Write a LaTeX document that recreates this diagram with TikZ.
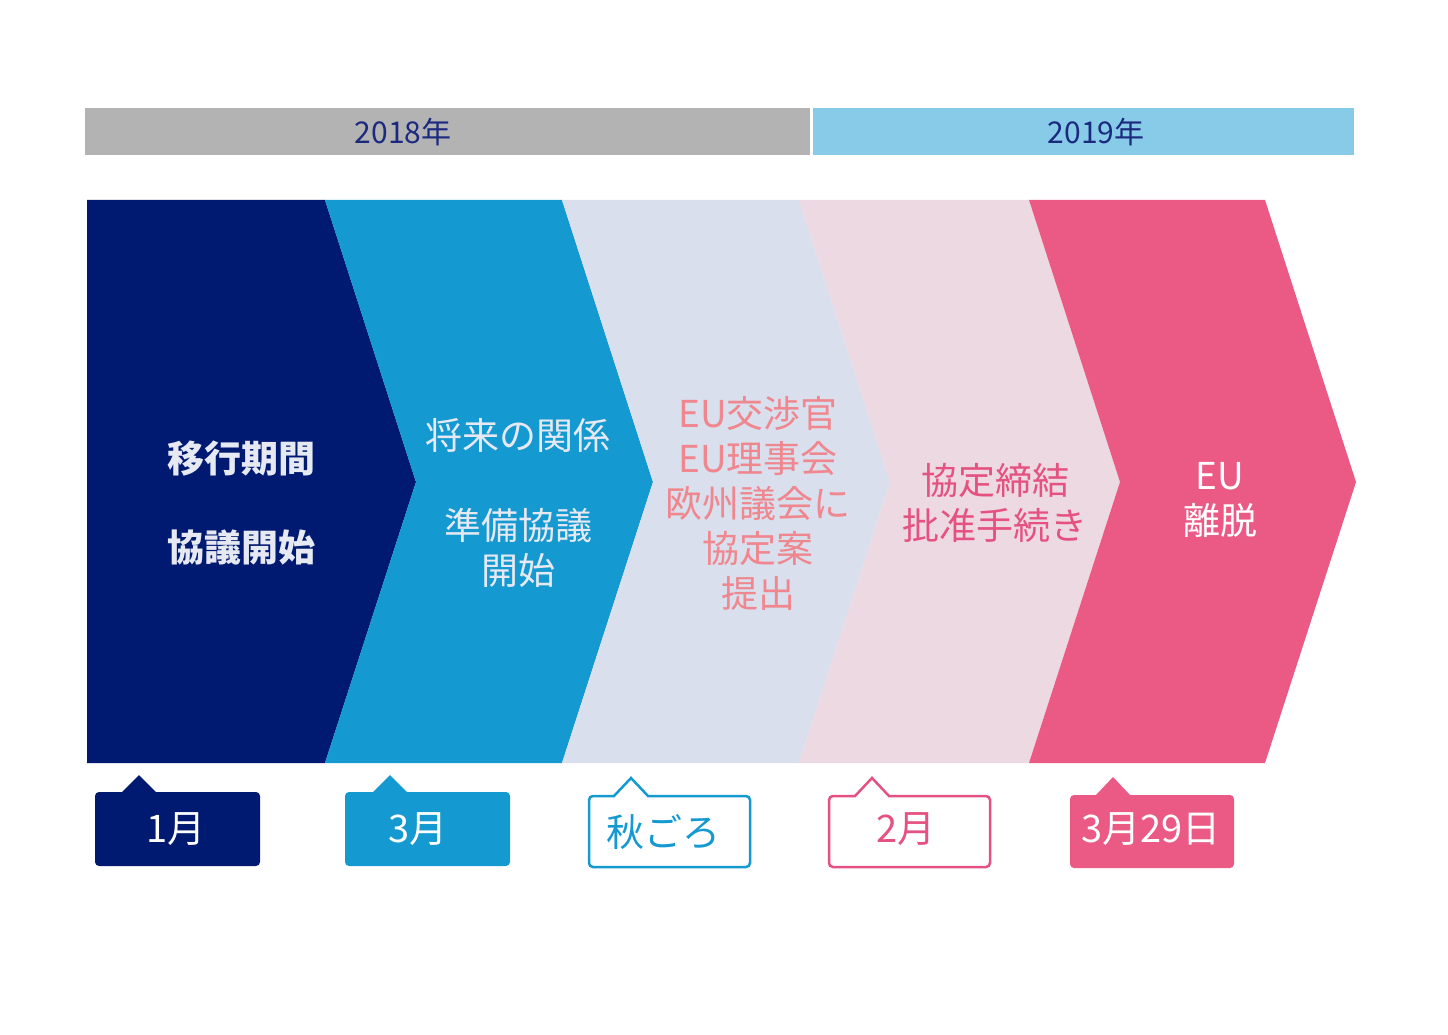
\documentclass[tikz,border=0pt]{standalone}
\usepackage{fontspec}
\setmainfont{Noto Sans CJK JP}
\usetikzlibrary{arrows.meta}

\definecolor{navy}{HTML}{001A72}
\definecolor{sea}{HTML}{1499D1}
\definecolor{mist}{HTML}{D9DFEC}
\definecolor{blush}{HTML}{EDD9E2}
\definecolor{rose}{HTML}{EB5985}
\definecolor{yeargray}{HTML}{B3B3B3}
\definecolor{yearblue}{HTML}{87CBE8}
\definecolor{yeartext}{HTML}{1B2A7E}
\definecolor{salmon}{HTML}{F0868E}
\definecolor{rosetext}{HTML}{E55281}
\definecolor{pale}{HTML}{E6E9F2}

\tikzset{
  yeartxt/.style={text=yeartext, font=\fontsize{30}{36}\selectfont},
  stagetxt/.style={align=center, font=\fontsize{37}{45}\selectfont},
  datetxt/.style={font=\fontsize{38}{44}\selectfont}
}

\begin{document}
\begin{tikzpicture}[x=1pt, y=-1pt]
    \useasboundingbox[fill=white] (0, 0) rectangle (1448, 1035);

    % year bars
    \fill[yeargray] (85, 108) rectangle (810, 155);
    \fill[yearblue] (813, 108) rectangle (1354, 155);
    \node[yeartxt] (y2018) at (403, 132) {2018年};
    \node[yeartxt] (y2019) at (1096, 132) {2019年};

    % chevrons
    \fill[navy] (87, 200) -- (325, 200) -- (416, 482) -- (325, 763) -- (87, 763) -- cycle;
    \fill[sea] (325, 200) -- (562, 200) -- (653, 482) -- (562, 763) -- (325, 763) -- (416, 482) -- cycle;
    \fill[mist] (562, 200) -- (799, 200) -- (890, 482) -- (799, 763) -- (562, 763) -- (653, 482) -- cycle;
    \fill[blush] (799, 200) -- (1029, 200) -- (1120, 482) -- (1029, 763) -- (799, 763) -- (890, 482) -- cycle;
    \fill[rose] (1029, 200) -- (1265, 200) -- (1356, 482) -- (1265, 763) -- (1029, 763) -- (1120, 482) -- cycle;

    \node[stagetxt, text=pale, font=\fontsize{37}{89}\selectfont\bfseries] (Start) at (241, 503) {移行期間\\協議開始};
    \node[stagetxt, text=pale] (Prep) at (518, 503) {将来の関係\\[45pt]準備協議\\開始};
    \node[stagetxt, text=salmon] (Draft) at (758, 503) {EU交渉官\\EU理事会\\欧州議会に\\協定案\\提出};
    \node[stagetxt, text=rosetext] (Ratify) at (995, 503) {協定締結\\批准手続き};
    \node[stagetxt, text=white] (Exit) at (1220, 500) {EU\\離脱};

    % date callouts
    \fill[navy] (122, 792) -- (139, 775) -- (156, 792) [rounded corners=4] -- (260, 792) -- (260, 866) -- (95, 866) -- (95, 792) [sharp corners] -- cycle;
    \fill[sea] (373, 792) -- (390, 775) -- (407, 792) [rounded corners=4] -- (510, 792) -- (510, 866) -- (345, 866) -- (345, 792) [sharp corners] -- cycle;
    \draw[sea, line width=2.5, line join=miter] (614, 796) -- (631, 778) -- (648, 796) [rounded corners=4] -- (750, 796) -- (750, 867) -- (589, 867) -- (589, 796) [sharp corners] -- cycle;
    \draw[rosetext, line width=2.5, line join=miter] (855, 796) -- (872, 778) -- (889, 796) [rounded corners=4] -- (990, 796) -- (990, 867) -- (829, 867) -- (829, 796) [sharp corners] -- cycle;
    \fill[rose] (1096, 795) -- (1113, 777) -- (1130, 795) [rounded corners=4] -- (1234, 795) -- (1234, 868) -- (1070, 868) -- (1070, 795) [sharp corners] -- cycle;

    \node[datetxt, text=white] (Jan) at (176, 829) {1月};
    \node[datetxt, text=white] (Mar) at (418, 829) {3月};
    \node[datetxt, text=sea] (Autumn) at (663, 832) {秋ごろ};
    \node[datetxt, text=rosetext] (Feb) at (906, 829) {2月};
    \node[datetxt, text=white] (Brexit) at (1151, 829) {3月29日};
  \end{tikzpicture}
\end{document}
